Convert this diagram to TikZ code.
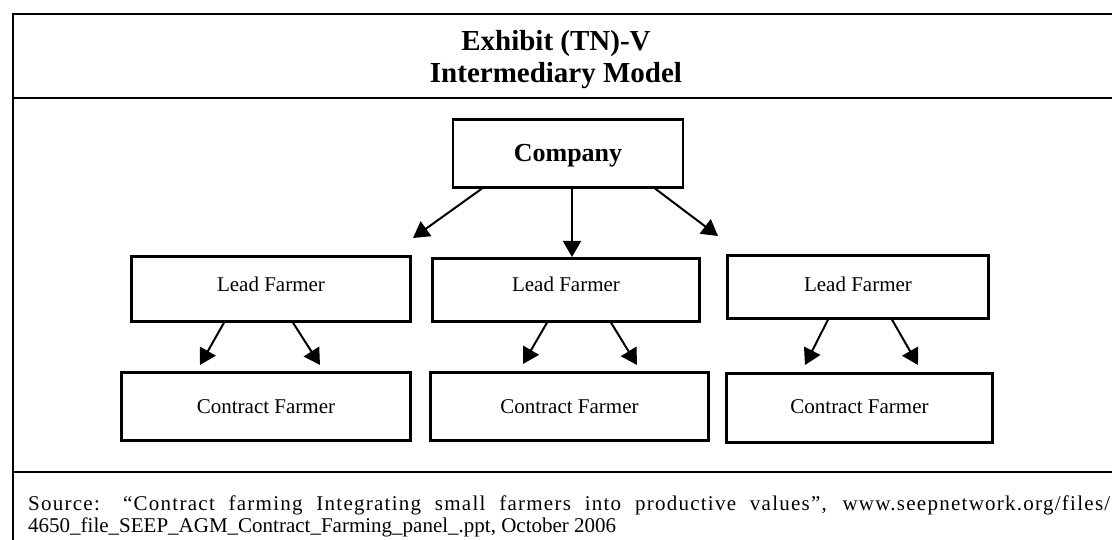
\documentclass[tikz,border=0pt]{standalone}
\usepackage{fontspec}
\setmainfont{Liberation Serif}
\usetikzlibrary{arrows.meta,calc}
\begin{document}
\begin{tikzpicture}[x=1pt,y=-1pt,
  frame/.style={line width=2.6pt},
  box/.style={draw,line width=2.3pt,inner sep=0pt,align=center,font=\fontsize{21}{24}\selectfont},
  arr/.style={line width=2pt,-{Triangle[length=16pt,width=18pt]}},
  ttl/.style={anchor=base,inner sep=0pt,font=\bfseries\fontsize{29}{33}\selectfont},
  src/.style={anchor=base west,inner sep=0pt,font=\fontsize{21}{24}\selectfont}
]
\useasboundingbox (0,0) rectangle (1112,540);
% frame
\draw[frame] (1112,14) -- (13,14) -- (13,540);
\draw[frame] (13,98) -- (1112,98);
\draw[frame] (13,472) -- (1112,472);
% title
\node[ttl] (t1) at (556,51) {Exhibit (TN)-V};
\node[ttl] (t2) at (556,83) {Intermediary Model};
% company
\node[box,minimum width=230pt,minimum height=68pt,text height=17pt,text depth=0pt,
      font=\bfseries\fontsize{26}{30}\selectfont] (co) at (568,153.5) {Company};
% lead farmers
\node[box,minimum width=279pt,minimum height=65pt,text height=14pt,text depth=8pt] (l1) at (271,289) {Lead Farmer};
\node[box,minimum width=267pt,minimum height=63pt,text height=14pt,text depth=10pt] (l2) at (566,290) {Lead Farmer};
\node[box,minimum width=261pt,minimum height=63pt,text height=14pt,text depth=4pt] (l3) at (858,287) {Lead Farmer};
% contract farmers
\node[box,minimum width=289pt,minimum height=68pt,text height=14pt,text depth=1pt] (c1) at (266,406.5) {Contract Farmer};
\node[box,minimum width=278pt,minimum height=68pt,text height=14pt,text depth=1pt] (c2) at (569.5,406.5) {Contract Farmer};
\node[box,minimum width=266pt,minimum height=69pt,text height=14pt,text depth=4pt] (c3) at (859.5,408) {Contract Farmer};
% arrow tips
\coordinate (tL) at (413,238);
\coordinate (tM) at (572,257);
\coordinate (tR) at (718,236);
\coordinate (a1) at (200,365);
\coordinate (b1) at (320,365);
\coordinate (a2) at (523,364);
\coordinate (b2) at (637,365);
\coordinate (a3) at (805,365);
\coordinate (b3) at (918,365);
% arrows
\draw[arr] ($(co.south west)+(30,0)$) -- (tL);
\draw[arr] (co.south -| tM) -- (tM);
\draw[arr] ($(co.south east)+(-29,0)$) -- (tR);
\draw[arr] ($(l1.south)+(-47,0)$) -- (a1);
\draw[arr] ($(l1.south)+(22,0)$) -- (b1);
\draw[arr] ($(l2.south)+(-19,0)$) -- (a2);
\draw[arr] ($(l2.south)+(45,0)$) -- (b2);
\draw[arr] ($(l3.south)+(-30,0)$) -- (a3);
\draw[arr] ($(l3.south)+(34,0)$) -- (b3);
% source
\node[src] (s1) at (28,510) {\makebox[1082pt][s]{\addfontfeature{LetterSpace=6}Source: “Contract farming Integrating small farmers into productive values”, www.seepnetwork.org/files/}};
\node[src] (s2) at (28,532) {4650\_file\_SEEP\_AGM\_Contract\_Farming\_panel\_.ppt, October 2006};
\end{tikzpicture}
\end{document}
